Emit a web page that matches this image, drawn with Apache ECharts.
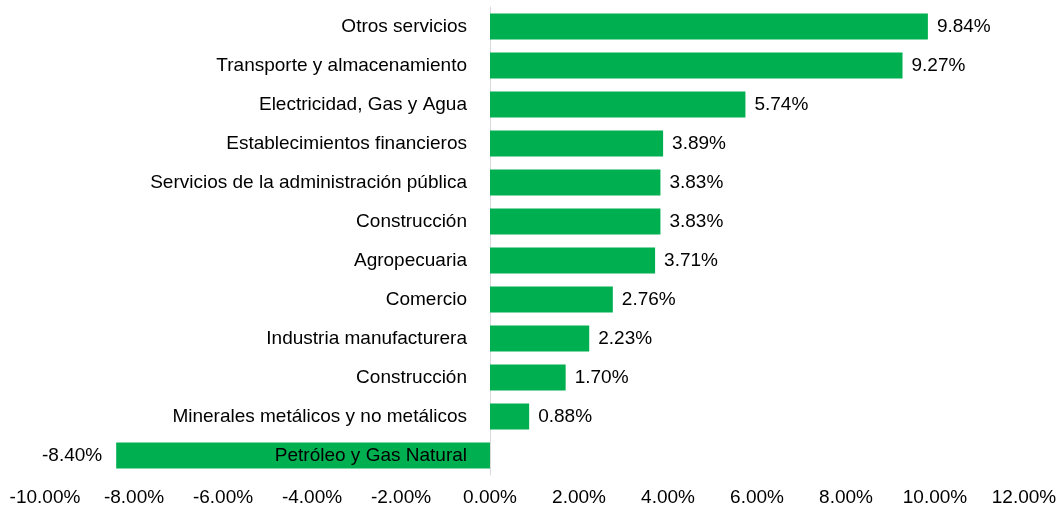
<!DOCTYPE html>
<html>
<head>
<meta charset="utf-8">
<script src="https://cdn.jsdelivr.net/npm/echarts@6/dist/echarts.min.js"></script>
<style>
html,body{margin:0;padding:0;background:#fff;}
#chart{width:1058px;height:510px;}
</style>
</head>
<body>
<div id="chart"></div>
<script>
const categories = [
  'Otros servicios',
  'Transporte y almacenamiento',
  'Electricidad, Gas y Agua',
  'Establecimientos financieros',
  'Servicios de la administración pública',
  'Construcción',
  'Agropecuaria',
  'Comercio',
  'Industria manufacturera',
  'Construcción',
  'Minerales metálicos y no metálicos',
  'Petróleo y Gas Natural'
];
const values = [9.84, 9.27, 5.74, 3.89, 3.83, 3.83, 3.71, 2.76, 2.23, 1.70, 0.88, -8.40];
const xMin = -10, xMax = 12, xStep = 2;

const chart = echarts.init(document.getElementById('chart'));
const font = 'Liberation Sans, Arial, sans-serif';
const fs = 19;
chart.setOption({
  animation: false,
  grid: { left: 45, right: 34, top: 7, bottom: 35, containLabel: false, outerBoundsMode: 'none' },
  xAxis: {
    type: 'value', min: xMin, max: xMax, interval: xStep,
    axisLine: { show: false }, axisTick: { show: false },
    splitLine: { show: false },
    axisLabel: { color: '#000', fontSize: fs, fontFamily: font, margin: 13,
      formatter: v => v.toFixed(2) + '%' }
  },
  yAxis: {
    type: 'category', data: categories, inverse: true,
    axisLine: { onZero: true, lineStyle: { color: '#d9d9d9', width: 1 } },
    axisTick: { show: false },
    axisLabel: { show: false }
  },
  series: [{
    type: 'bar',
    barWidth: 26,
    itemStyle: { color: '#00B050' },
    data: values.map(v => ({
      value: v,
      label: { show: true, position: v >= 0 ? 'right' : 'left', distance: v >= 0 ? 9 : 14,
        color: '#000', fontSize: fs, fontFamily: font,
        formatter: p => p.value.toFixed(2) + '%' }
    })),
    z: 1
  }, {
    type: 'scatter',
    symbolSize: 0,
    silent: true,
    itemStyle: { opacity: 1 },
    data: categories.map(() => 0),
    label: { show: true, position: 'left', distance: 23,
      color: '#000', opacity: 1, fontSize: fs, fontFamily: font,
      formatter: p => categories[p.dataIndex] },
    z: 5
  }]
});
</script>
</body>
</html>
